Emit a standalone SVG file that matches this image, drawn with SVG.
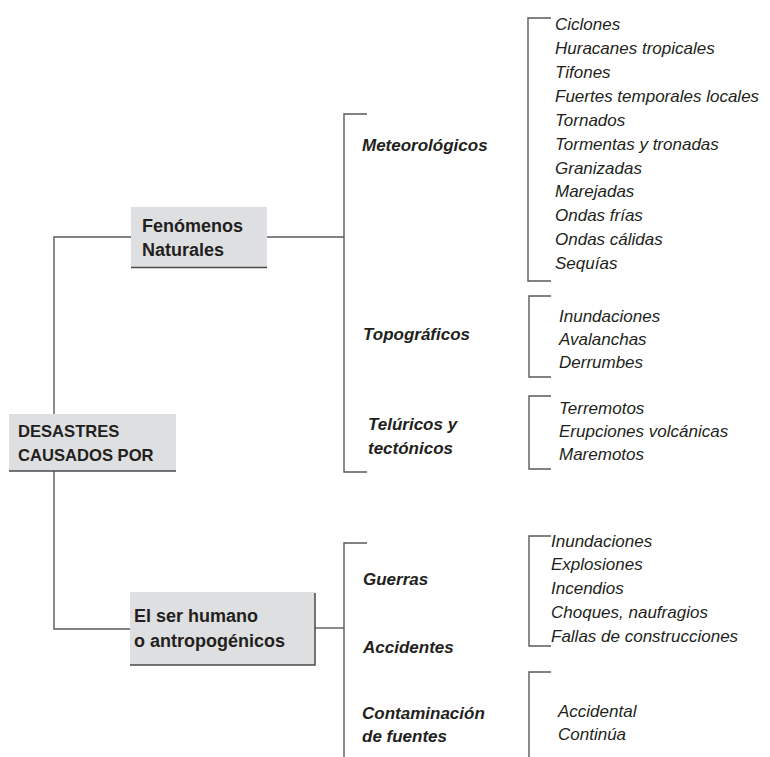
<svg xmlns="http://www.w3.org/2000/svg" width="770" height="757" viewBox="0 0 770 757">
<style>
.ln{fill:none;stroke:#5a5a5a;stroke-width:1.4}
.box{fill:#dedfe0}
.edge{fill:none;stroke:#4a4a4a;stroke-width:1.5}
.b{font-family:"Liberation Sans",Arial,sans-serif;font-size:18px;font-weight:bold;fill:#231f20}
.bc{font-family:"Liberation Sans",Arial,sans-serif;font-size:16.6px;font-weight:bold;fill:#231f20}
.bi{font-family:"Liberation Sans",Arial,sans-serif;font-size:17px;font-weight:bold;font-style:italic;fill:#231f20}
.i{font-family:"Liberation Sans",Arial,sans-serif;font-size:17px;font-style:italic;fill:#231f20}
</style>
<rect width="770" height="757" fill="#ffffff"/>
<g id="connectors">
<path class="ln" d="M131 237 H54 V629 H130"/>
<path class="ln" d="M267 237 H344"/>
<path class="ln" d="M315 628 H344"/>
<path class="ln" d="M367 114 H344 V472 H367"/>
<path class="ln" d="M367 543 H344 V757"/>
<path class="ln" d="M551 18 H528 V281 H551"/>
<path class="ln" d="M551 296 H529 V377 H551"/>
<path class="ln" d="M551 396 H529 V469 H551"/>
<path class="ln" d="M551 536 H529 V646 H551"/>
<path class="ln" d="M551 672 H529 V757"/>
</g>
<g id="root">
<rect class="box" x="9" y="414" width="167" height="57"/>
<path class="edge" d="M9 471 H176"/>
<text class="bc" x="18" y="437">DESASTRES</text>
<text class="bc" x="18" y="461">CAUSADOS POR</text>
</g>
<g id="naturales">
<rect class="box" x="131" y="207" width="136" height="60"/>
<path class="edge" d="M131 267.5 H267"/>
<text class="b" x="142" y="232">Fenómenos</text>
<text class="b" x="142" y="256">Naturales</text>
</g>
<g id="humano">
<rect class="box" x="130" y="592" width="185" height="73"/>
<path class="edge" d="M315 593 V665 H130"/>
<text class="b" x="134" y="622">El ser humano</text>
<text class="b" x="134" y="647">o antropogénicos</text>
</g>
<g id="meteorologicos">
<text class="bi" x="362" y="151">Meteorológicos</text>
</g>
<g id="topograficos">
<text class="bi" x="363" y="340">Topográficos</text>
</g>
<g id="teluricos">
<text class="bi" x="368" y="430">Telúricos y</text>
<text class="bi" x="368" y="454">tectónicos</text>
</g>
<g id="guerras">
<text class="bi" x="363" y="585">Guerras</text>
</g>
<g id="accidentes">
<text class="bi" x="363" y="653">Accidentes</text>
</g>
<g id="contaminacion">
<text class="bi" x="362" y="719">Contaminación</text>
<text class="bi" x="362" y="742">de fuentes</text>
</g>
<g id="lista-meteorologicos">
<text class="i" x="555" y="30">Ciclones</text>
<text class="i" x="555" y="54">Huracanes tropicales</text>
<text class="i" x="555" y="78">Tifones</text>
<text class="i" x="555" y="102">Fuertes temporales locales</text>
<text class="i" x="555" y="126">Tornados</text>
<text class="i" x="555" y="150">Tormentas y tronadas</text>
<text class="i" x="555" y="174">Granizadas</text>
<text class="i" x="555" y="197">Marejadas</text>
<text class="i" x="555" y="221">Ondas frías</text>
<text class="i" x="555" y="245">Ondas cálidas</text>
<text class="i" x="555" y="269">Sequías</text>
</g>
<g id="lista-topograficos">
<text class="i" x="559" y="322">Inundaciones</text>
<text class="i" x="559" y="345">Avalanchas</text>
<text class="i" x="559" y="368">Derrumbes</text>
</g>
<g id="lista-teluricos">
<text class="i" x="559" y="414">Terremotos</text>
<text class="i" x="559" y="437">Erupciones volcánicas</text>
<text class="i" x="559" y="460">Maremotos</text>
</g>
<g id="lista-accidentes">
<text class="i" x="551" y="547">Inundaciones</text>
<text class="i" x="551" y="570">Explosiones</text>
<text class="i" x="551" y="594">Incendios</text>
<text class="i" x="551" y="618">Choques, naufragios</text>
<text class="i" x="551" y="642">Fallas de construcciones</text>
</g>
<g id="lista-contaminacion">
<text class="i" x="558" y="717">Accidental</text>
<text class="i" x="558" y="740">Continúa</text>
</g>
</svg>
